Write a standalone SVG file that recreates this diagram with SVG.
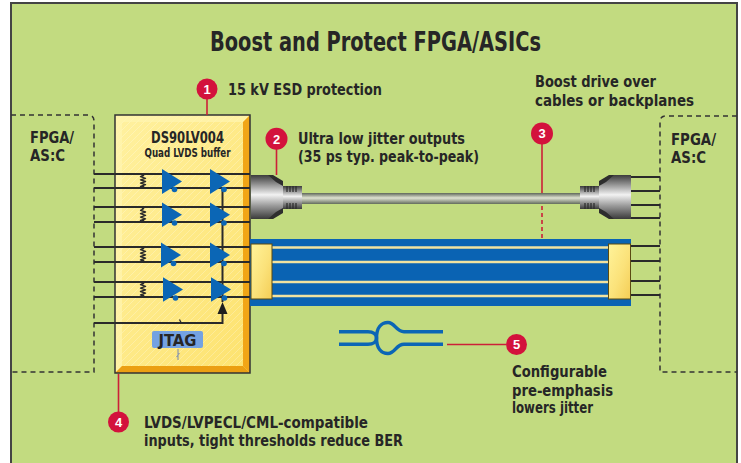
<svg xmlns="http://www.w3.org/2000/svg" width="741" height="463" viewBox="0 0 741 463">
  <defs>
    <style>
      .t { font-family: 'Liberation Sans Narrow', 'DejaVu Sans Condensed', 'Liberation Sans', sans-serif; font-weight: bold; fill: #262626; }
      .num { font-family: 'Liberation Sans', 'DejaVu Sans', sans-serif; font-weight: bold; fill: #ffffff; font-size: 13px; text-anchor: middle; }
      .sig { stroke: #2a2a2a; stroke-width: 2; fill: none; }
      .dash { stroke: #333333; stroke-width: 1.5; fill: none; stroke-dasharray: 5 4; }
      .lead { stroke: #cc2038; stroke-width: 1.6; fill: none; }
      .mark { fill: #d3123c; }
      .buf { fill: #0b66b5; }
      .res { stroke: #2a2a2a; stroke-width: 1.4; fill: none; stroke-linejoin: round; }
      .stripe { stroke: #f2e3a0; stroke-width: 2.5; }
      .wave { stroke: #0b66b5; stroke-width: 3.5; fill: none; }
    </style>
    <linearGradient id="metal" x1="0" y1="0" x2="0" y2="1">
      <stop offset="0" stop-color="#3c3c3c"/>
      <stop offset="0.2" stop-color="#8c8c8c"/>
      <stop offset="0.45" stop-color="#f2f2f2"/>
      <stop offset="0.7" stop-color="#9a9a9a"/>
      <stop offset="1" stop-color="#3a3a3a"/>
    </linearGradient>
    <linearGradient id="cable" x1="0" y1="0" x2="0" y2="1">
      <stop offset="0" stop-color="#5f675a"/>
      <stop offset="0.45" stop-color="#dfe2d2"/>
      <stop offset="1" stop-color="#636b5c"/>
    </linearGradient>
    <linearGradient id="face" x1="0" y1="0" x2="1" y2="1">
      <stop offset="0" stop-color="#fff1a0"/>
      <stop offset="1" stop-color="#fde26e"/>
    </linearGradient>
    <linearGradient id="block" x1="0" y1="0" x2="1" y2="1">
      <stop offset="0" stop-color="#fff39a"/>
      <stop offset="0.55" stop-color="#fbe27a"/>
      <stop offset="1" stop-color="#f4cd55"/>
    </linearGradient>
    <pattern id="hatch" patternUnits="userSpaceOnUse" width="7" height="7">
      <path d="M0,7 L7,0" stroke="#ffffff" stroke-opacity="0.3" stroke-width="0.8"/>
    </pattern>
  </defs>

  <!-- panel -->
  <rect x="0" y="0" width="741" height="463" fill="#ffffff"/>
  <rect x="11" y="3" width="726" height="475" fill="#c2db80" stroke="#444444" stroke-width="2"/>

  <text class="t" x="375.5" y="51" font-size="26" text-anchor="middle" textLength="331" lengthAdjust="spacingAndGlyphs">Boost and Protect FPGA/ASICs</text>

  <!-- left FPGA/ASIC -->
  <g id="fpga-left">
    <path class="dash" d="M11,115 H88 Q94,115 94,121 V372 H11"/>
    <text class="t" x="30" y="143" font-size="16" textLength="44" lengthAdjust="spacingAndGlyphs">FPGA/</text>
    <text class="t" x="30" y="161" font-size="16" textLength="35" lengthAdjust="spacingAndGlyphs">AS:C</text>
  </g>

  <!-- right FPGA/ASIC -->
  <g id="fpga-right">
    <path class="dash" d="M737,116 H666 Q660,116 660,122 V372 H737"/>
    <text class="t" x="671" y="145" font-size="16" textLength="45" lengthAdjust="spacingAndGlyphs">FPGA/</text>
    <text class="t" x="671" y="163" font-size="16" textLength="35" lengthAdjust="spacingAndGlyphs">AS:C</text>
  </g>

  <!-- signal traces between the devices -->
  <g id="connectors">
    <path class="sig" d="M94,174 H250 M94,188 H250 M94,207 H250 M94,222 H250 M94,247 H250 M94,262 H250 M94,282 H250 M94,297 H250"/>
    <path class="sig" d="M628,177 H660 M628,191 H660 M628,205 H660 M628,218 H660 M628,246 H660 M628,261 H660 M628,281 H660 M628,295 H660"/>
    <path class="sig" d="M94,323 H115"/>
  </g>

  <!-- DS90LV004 buffer chip -->
  <g id="chip">
    <rect x="115" y="115" width="135" height="258" fill="url(#face)"/>
    <rect x="115" y="115" width="135" height="258" fill="url(#hatch)"/>
    <polygon points="115,115 250,115 243,122 122,122 122,366 115,373" fill="#fff5b0" opacity="0.7"/>
    <polygon points="243,122 250,115 250,373 243,366" fill="#f1a516"/>
    <polygon points="122,366 243,366 250,373 115,373" fill="#eb9f12"/>
    <rect x="115" y="115" width="135" height="258" fill="none" stroke="#333333" stroke-width="1.5"/>
    <text class="t" x="187.5" y="143" font-size="15" text-anchor="middle" textLength="73" lengthAdjust="spacingAndGlyphs">DS90LV004</text>
    <text class="t" x="187.5" y="157" font-size="11.5" text-anchor="middle" textLength="86" lengthAdjust="spacingAndGlyphs">Quad LVDS buffer</text>

    <!-- signal lines across the chip -->
    <path class="sig" d="M115,174 H250 M115,188 H250 M115,207 H250 M115,222 H250 M115,247 H250 M115,262 H250 M115,282 H250 M115,297 H250"/>
    <path class="sig" d="M115,323 H222.5 V313"/>
    <path class="sig" d="M222.5,188 V302"/>
    <path d="M222.5,302 L227.5,314 L217.5,314 Z" fill="#1e1e1e"/>
    <path d="M179.5,319.5 L181.5,323.5" stroke="#2a2a2a" stroke-width="1.3"/>

    <!-- termination resistors -->
    <path class="res" d="M143,174 V175.5 l-2.5,1.2 l5,1.6 l-5,1.6 l5,1.6 l-5,1.6 l5,1.6 l-5,1.6 l2.5,1.2 V188"/>
    <path class="res" d="M143,207 V209 l-2.5,1.3 l5,1.7 l-5,1.7 l5,1.7 l-5,1.7 l5,1.7 l-5,1.7 l2.5,1.5 V222"/>
    <path class="res" d="M143,247 V248.5 l-2.5,1.2 l5,1.7 l-5,1.7 l5,1.7 l-5,1.7 l5,1.7 l-5,1.7 l2.5,1.2 V262"/>
    <path class="res" d="M143,282 V283.5 l-2.5,1.2 l5,1.7 l-5,1.7 l5,1.7 l-5,1.7 l5,1.7 l-5,1.7 l2.5,1.2 V297"/>
    <g fill="#2a2a2a">
      <circle cx="143" cy="175" r="1.4"/><circle cx="143" cy="187" r="1.4"/>
      <circle cx="143" cy="208" r="1.4"/><circle cx="143" cy="221" r="1.4"/>
      <circle cx="143" cy="248" r="1.4"/><circle cx="143" cy="261" r="1.4"/>
      <circle cx="143" cy="283" r="1.4"/><circle cx="143" cy="296" r="1.4"/>
    </g>

    <!-- input receivers -->
    <g class="buf">
      <polygon points="162,169 162,194 182,181.5"/><circle cx="174.5" cy="189.5" r="2.8"/>
      <polygon points="162,202.5 162,227 182,214.7"/><circle cx="174.5" cy="223" r="2.8"/>
      <polygon points="161,242.5 161,267.5 181,255"/><circle cx="173.5" cy="263.5" r="2.8"/>
      <polygon points="163,277.3 163,301.7 183,289.5"/><circle cx="175.5" cy="298" r="2.8"/>
    </g>
    <!-- output drivers -->
    <g class="buf">
      <polygon points="210,169 210,194 230,181.5"/><circle cx="224" cy="189.5" r="2.8"/>
      <polygon points="210,202.5 210,227 230,214.7"/><circle cx="224" cy="223" r="2.8"/>
      <polygon points="210,242.5 210,267.5 230,255"/><circle cx="224" cy="263.5" r="2.8"/>
      <polygon points="211,277.3 211,301.7 231,289.5"/><circle cx="224.5" cy="298" r="2.8"/>
    </g>

    <!-- JTAG port -->
    <rect x="152" y="331" width="51" height="17" rx="2" fill="#74a2e2"/>
    <text class="t" x="177.5" y="346" font-size="15" text-anchor="middle" textLength="38" lengthAdjust="spacingAndGlyphs">JTAG</text>
    <path d="M178,349 V360 M176.5,357 L179.5,353" stroke="#8e9aaa" stroke-width="1.2" fill="none"/>
  </g>

  <!-- cable assembly -->
  <g id="cable">
    <rect x="300" y="193" width="282" height="11" fill="url(#cable)"/>
    <!-- left plug -->
    <rect x="282" y="186" width="20" height="23" fill="url(#metal)"/>
    <path d="M287,186 V192 M290,186 V192 M293,186 V192 M296,186 V192 M287,203 V209 M290,203 V209 M293,203 V209 M296,203 V209" stroke="#2a2a2a" stroke-width="1.2"/>
    <path d="M251,175 H272 L283,182 V212 L272,219 H251 Z" fill="url(#metal)"/>
    <path d="M268,175 H273 L283,181 V186 L276,182 Z M268,219 H273 L283,213 V208 L276,212 Z" fill="#2e2e2e"/>
    <!-- right plug -->
    <rect x="580" y="186" width="20" height="23" fill="url(#metal)"/>
    <path d="M585,186 V192 M588,186 V192 M591,186 V192 M594,186 V192 M585,203 V209 M588,203 V209 M591,203 V209 M594,203 V209" stroke="#2a2a2a" stroke-width="1.2"/>
    <path d="M631,175 H610 L599,182 V212 L610,219 H631 Z" fill="url(#metal)"/>
    <path d="M614,175 H609 L599,181 V186 L606,182 Z M614,219 H609 L599,213 V208 L606,212 Z" fill="#2e2e2e"/>
  </g>

  <!-- backplane -->
  <g id="backplane">
    <rect x="250" y="239" width="381" height="67" fill="#0a63b3"/>
    <path class="stripe" d="M272,247.5 H609 M272,262 H609 M272,282 H609 M272,296 H609"/>
    <rect x="251" y="244" width="21" height="55" fill="url(#block)" stroke="#5b4a12" stroke-width="1"/>
    <rect x="608.5" y="244" width="22" height="55" fill="url(#block)" stroke="#5b4a12" stroke-width="1"/>
  </g>

  <!-- pre-emphasis waveform -->
  <g id="waveform">
    <path class="wave" d="M339,331.7 H368 C373,331.7 376.5,334 376.5,338 C376.5,342 373,344.3 368,344.3 H339"/>
    <path class="wave" d="M376.5,338 C376.5,328 381,322.5 388,322.5 C395,322.5 396,331.7 404,331.7 H443"/>
    <path class="wave" d="M376.5,338 C376.5,348 381,353.5 388,353.5 C395,353.5 396,344.3 404,344.3 H443"/>
  </g>

  <!-- callout 1 -->
  <g id="callout-1">
    <path class="lead" d="M207,99 V115"/>
    <circle class="mark" cx="207" cy="89" r="10.5"/>
    <text class="num" x="207" y="93.5">1</text>
    <text class="t" x="228" y="95" font-size="16" textLength="154" lengthAdjust="spacingAndGlyphs">15 kV ESD protection</text>
  </g>

  <!-- callout 2 -->
  <g id="callout-2">
    <path class="lead" d="M276.5,149 V175"/>
    <circle class="mark" cx="276.5" cy="138.7" r="11"/>
    <text class="num" x="276.5" y="143.5">2</text>
    <text class="t" x="298" y="143.5" font-size="15" textLength="167" lengthAdjust="spacingAndGlyphs">Ultra low jitter outputs</text>
    <text class="t" x="298" y="161.5" font-size="15" textLength="181" lengthAdjust="spacingAndGlyphs">(35 ps typ. peak-to-peak)</text>
  </g>

  <!-- callout 3 -->
  <g id="callout-3">
    <path class="lead" d="M542,144 V193"/>
    <path class="lead" d="M542,206 V239" stroke-dasharray="4 3"/>
    <circle class="mark" cx="542" cy="133.5" r="11"/>
    <text class="num" x="542" y="138.3">3</text>
    <text class="t" x="535" y="87" font-size="16" textLength="121" lengthAdjust="spacingAndGlyphs">Boost drive over</text>
    <text class="t" x="535" y="106" font-size="16" textLength="159" lengthAdjust="spacingAndGlyphs">cables or backplanes</text>
  </g>

  <!-- callout 4 -->
  <g id="callout-4">
    <path class="lead" d="M118.5,374 V412"/>
    <circle class="mark" cx="118.5" cy="422" r="10.5"/>
    <text class="num" x="118.5" y="426.7">4</text>
    <text class="t" x="144" y="428" font-size="16" textLength="224" lengthAdjust="spacingAndGlyphs">LVDS/LVPECL/CML-compatible</text>
    <text class="t" x="144" y="446" font-size="16" textLength="259" lengthAdjust="spacingAndGlyphs">inputs, tight thresholds reduce BER</text>
  </g>

  <!-- callout 5 -->
  <g id="callout-5">
    <path class="lead" d="M447,344.5 H506"/>
    <circle class="mark" cx="516.5" cy="344.5" r="10.5"/>
    <text class="num" x="516.5" y="349.2">5</text>
    <text class="t" x="512" y="377" font-size="16" textLength="95" lengthAdjust="spacingAndGlyphs">Configurable</text>
    <text class="t" x="512" y="395.5" font-size="16" textLength="101" lengthAdjust="spacingAndGlyphs">pre-emphasis</text>
    <text class="t" x="512" y="413" font-size="16" textLength="81" lengthAdjust="spacingAndGlyphs">lowers jitter</text>
  </g>
</svg>
